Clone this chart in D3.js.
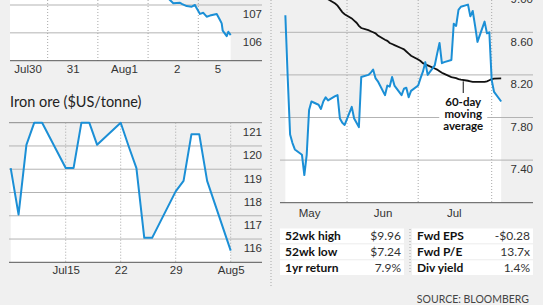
<!DOCTYPE html>
<html lang="en">
<head>
<meta charset="UTF-8">
<title>Iron ore and share price</title>
<script src="https://cdn.jsdelivr.net/npm/d3@7"></script>
<style>
    body { margin: 0; background: #f0f0f0; }
    svg { display: block; font-family: Lato, "Noto Sans", sans-serif; }
    .ylab text, .xlab text { font-size: 11.5px; fill: #333; }
    .domain { display: none; }
</style>
</head>
<body>
<script>
    var width = 543
    var height = 305
    var blue = "#1b8fd6"

    // intraday share price, last five sessions (x = session index)
    var topDays = [0.25, 0.6, 1.0, 1.5, 2.0, 2.5, 3.0, 3.3, 3.436, 3.502, 3.636, 3.67, 3.769, 3.869, 3.934, 3.968,
                   4.034, 4.10, 4.167, 4.233, 4.367, 4.432, 4.466, 4.486, 4.566, 4.598, 4.645]
    var topPrices = [108.5, 108.7, 108.3, 108.5, 108.1, 107.9, 107.7, 107.4, 107.18, 107.06, 107.08, 107.04, 106.96, 106.94, 107.0, 106.88,
                     106.68, 106.72, 106.58, 106.62, 106.68, 106.46, 106.34, 106.08, 105.88, 106.04, 105.92]
    var topBreaks = [1, 2, 3, 4]
    var topTickPos = [0.6, 1.5, 2.52, 3.57, 4.38]
    var topTickLabels = ["Jul30", "31", "Aug1", "2", "5"]
    var topYTicks = [106, 107]

    // iron ore
    var ironDates = ["2019-07-08", "2019-07-09", "2019-07-10", "2019-07-11", "2019-07-12", "2019-07-15", "2019-07-16",
                     "2019-07-17", "2019-07-18", "2019-07-19", "2019-07-22", "2019-07-23", "2019-07-24", "2019-07-25",
                     "2019-07-26", "2019-07-29", "2019-07-30", "2019-07-31", "2019-08-01", "2019-08-02", "2019-08-05"]
    var ironPrices = [119.05, 117.05, 120.05, 121.0, 121.0, 119.05, 119.05, 121.0, 121.0, 120.05, 121.0, 120.0, 119.05, 116.05,
                      116.05, 118.05, 118.5, 120.5, 120.5, 118.5, 115.5]
    var ironYTicks = [116, 117, 118, 119, 120, 121]
    var ironXTicks = ["2019-07-15", "2019-07-22", "2019-07-29", "2019-08-05"]
    var ironXLabels = ["Jul15", "22", "29", "Aug5"]

    // share price and 60-day moving average
    var shareDates = ["2019-05-06", "2019-05-07", "2019-05-08", "2019-05-09", "2019-05-10", "2019-05-13", "2019-05-14",
                      "2019-05-15", "2019-05-16", "2019-05-17", "2019-05-20", "2019-05-21", "2019-05-22", "2019-05-23",
                      "2019-05-24", "2019-05-27", "2019-05-28", "2019-05-29", "2019-05-30", "2019-05-31",
                      "2019-06-03", "2019-06-04", "2019-06-05", "2019-06-06", "2019-06-07", "2019-06-10", "2019-06-11",
                      "2019-06-12", "2019-06-13", "2019-06-14", "2019-06-17", "2019-06-18", "2019-06-19", "2019-06-20",
                      "2019-06-21", "2019-06-24", "2019-06-25", "2019-06-26", "2019-06-27", "2019-06-28",
                      "2019-07-01", "2019-07-02", "2019-07-03", "2019-07-04", "2019-07-05", "2019-07-08", "2019-07-09",
                      "2019-07-10", "2019-07-11", "2019-07-12", "2019-07-15", "2019-07-16", "2019-07-17", "2019-07-18",
                      "2019-07-19", "2019-07-22", "2019-07-23", "2019-07-24", "2019-07-25", "2019-07-26", "2019-07-29",
                      "2019-07-30", "2019-07-31", "2019-08-01", "2019-08-02", "2019-08-05"]
    var sharePrices = [8.76, 8.17, 7.64, 7.56, 7.50, 7.45, 7.26, 7.45, 7.87, 7.95, 7.92, 7.88, 7.95, 7.99, 7.96, 8.00, 8.01, 7.79, 7.75, 7.73,
                       7.90, 7.79, 7.75, 7.71, 8.18, 8.20, 8.22, 8.25, 8.17, 8.14, 8.01, 8.10, 8.09, 8.18, 8.10, 8.01, 8.07, 8.08, 7.99, 8.05,
                       8.10, 8.17, 8.23, 8.32, 8.20, 8.29, 8.40, 8.50, 8.31, 8.32, 8.34, 8.68, 8.66, 8.81, 8.84, 8.86, 8.75, 8.80, 8.66, 8.51,
                       8.70, 8.59, 8.60, 8.15, 8.04, 7.95]
    var shareMA = [9.30, 9.28, 9.25, 9.22, 9.19, 9.13, 9.11, 9.09, 9.06, 9.04, 8.98, 8.96, 8.94, 8.92, 8.91, 8.87, 8.85, 8.82, 8.79, 8.77,
                   8.73, 8.71, 8.69, 8.66, 8.64, 8.62, 8.61, 8.60, 8.59, 8.57, 8.53, 8.52, 8.50, 8.49, 8.48, 8.45, 8.44, 8.42, 8.40, 8.38,
                   8.345, 8.33, 8.31, 8.30, 8.29, 8.26, 8.25, 8.235, 8.22, 8.21, 8.18, 8.175, 8.17, 8.16, 8.155, 8.145, 8.14, 8.135, 8.135, 8.135,
                   8.135, 8.14, 8.15, 8.16, 8.165, 8.167]
    var shareYTicks = [7.4, 7.8, 8.2, 8.6, 9.0]
    var monthBreaks = ["2019-06-01", "2019-07-01", "2019-08-01"]
    var monthTickDates = ["2019-05-16", "2019-06-16", "2019-07-16"]
    var monthLabels = ["May", "Jun", "Jul"]
    var maNoteDate = "2019-07-20"
    var maNote = ["60-day", "moving", "average"]

    // key stats
    var statNamesL = ["52wk high", "52wk low", "1yr return"]
    var statValsL = ["$9.96", "$7.24", "7.9%"]
    var statNamesR = ["Fwd EPS", "Fwd P/E", "Div yield"]
    var statValsR = ["-$0.28", "13.7x", "1.4%"]

    var parse = d3.timeParse("%Y-%m-%d")

    var svg = d3.select("body")
        .append("svg")
        .attr("width", width)
        .attr("height", height)

    svg.append("rect")
        .attr("width", width)
        .attr("height", height)
        .attr("fill", "#f0f0f0")

    // shared drawing bits
    function gridLines(g, ys, x0, x1, color) {
        g.selectAll(null)
            .data(ys)
            .enter()
            .append("line")
            .attr("x1", x0)
            .attr("x2", x1)
            .attr("y1", function(d) { return d })
            .attr("y2", function(d) { return d })
            .attr("stroke", color || "#b3b3b3")
            .attr("stroke-width", 1)
    }

    function dotLines(g, xs, y0, y1) {
        g.selectAll(null)
            .data(xs)
            .enter()
            .append("line")
            .attr("x1", function(d) { return d })
            .attr("x2", function(d) { return d })
            .attr("y1", y0)
            .attr("y2", y1)
            .attr("stroke", "#a8a8a8")
            .attr("stroke-dasharray", "1,2")
    }

    function yLabels(scale, ticks, x, fmt) {
        svg.append("g")
            .attr("class", "ylab")
            .attr("transform", "translate(" + x + ",0)")
            .call(d3.axisLeft(scale).tickValues(ticks).tickSize(0).tickPadding(0).tickFormat(fmt))
            .selectAll("text")
            .attr("dy", "1.12em")
    }

    // ---------- top-left: intraday price ----------
    var topX = d3.scaleLinear().domain([0.25, 5]).range([10, 248.5])
    var topY = d3.scaleLinear().domain([105, 107]).range([60.7, 5])
    var topData = d3.zip(topDays, topPrices)

    svg.append("path")
        .datum(topData)
        .attr("fill", "#fff")
        .attr("d", d3.area().x(function(d) { return topX(d[0]) }).y0(topY(105)).y1(function(d) { return topY(d[1]) }))

    var g1 = svg.append("g")
    gridLines(g1, topYTicks.map(topY), 10, 262)
    dotLines(g1, topBreaks.map(topX), 0, topY(105))
    gridLines(g1, [topY(105)], 10, 262, "#555")

    svg.append("path")
        .datum(topData)
        .attr("fill", "none")
        .attr("stroke", blue)
        .attr("stroke-width", 2)
        .attr("stroke-linejoin", "round")
        .attr("d", d3.line().x(function(d) { return topX(d[0]) }).y(function(d) { return topY(d[1]) }))

    yLabels(topY, topYTicks, 262, d3.format("d"))

    svg.append("g")
        .attr("class", "xlab")
        .attr("transform", "translate(0," + topY(105) + ")")
        .call(d3.axisBottom(topX).tickValues(topTickPos).tickSize(0).tickPadding(4)
            .tickFormat(function(d, i) { return topTickLabels[i] }))

    // ---------- bottom-left: iron ore ----------
    svg.append("text")
        .attr("x", 10)
        .attr("y", 106.5)
        .attr("font-size", 14.5)
        .attr("fill", "#222")
        .text("Iron ore ($US/tonne)")

    var ironX = d3.scaleTime().domain([parse("2019-07-08"), parse("2019-08-05")]).range([10.7, 230.7])
    var ironY = d3.scaleLinear().domain([115, 121]).range([262.3, 122.7])
    var ironData = ironDates.map(function(d, i) { return { date: parse(d), value: ironPrices[i] } })

    svg.append("path")
        .datum(ironData)
        .attr("fill", "#fff")
        .attr("d", d3.area().x(function(d) { return ironX(d.date) }).y0(ironY(115)).y1(function(d) { return ironY(d.value) }))

    var g2 = svg.append("g")
    gridLines(g2, ironYTicks.slice(0, -1).map(ironY), 9, 262)
    gridLines(g2, [ironY(121)], 9, 262, "#8a8a8a")
    dotLines(g2, ironXTicks.map(function(d) { return ironX(parse(d)) }), ironY(121), ironY(115))
    gridLines(g2, [ironY(115)], 9, 262, "#555")

    svg.append("path")
        .datum(ironData)
        .attr("fill", "none")
        .attr("stroke", blue)
        .attr("stroke-width", 2)
        .attr("stroke-linejoin", "round")
        .attr("d", d3.line().x(function(d) { return ironX(d.date) }).y(function(d) { return ironY(d.value) }))

    yLabels(ironY, ironYTicks, 262, d3.format("d"))

    svg.append("g")
        .attr("class", "xlab")
        .attr("transform", "translate(0," + ironY(115) + ")")
        .call(d3.axisBottom(ironX).tickValues(ironXTicks.map(parse)).tickSize(0).tickPadding(4)
            .tickFormat(function(d, i) { return ironXLabels[i] }))

    // panel divider
    dotLines(svg.append("g"), [271], 0, 287)

    // ---------- right: share price ----------
    var shX = d3.scaleTime().domain([parse("2019-05-01"), parse("2019-08-01")]).range([273.5, 491.7])
    var shY = d3.scaleLinear().domain([7, 8.6]).range([202.7, 32.3])
    var shData = shareDates.map(function(d, i) { return { date: parse(d), value: sharePrices[i], ma: shareMA[i] } })

    svg.append("path")
        .datum(shData)
        .attr("fill", "#fff")
        .attr("d", d3.area().x(function(d) { return shX(d.date) }).y0(shY(7)).y1(function(d) { return shY(d.value) }))

    var g3 = svg.append("g")
    gridLines(g3, shareYTicks.map(shY), 280, 533)
    dotLines(g3, monthBreaks.map(function(d) { return shX(parse(d)) }), 0, shY(7))
    gridLines(g3, [shY(7)], 280, 533, "#555")

    // moving average note
    var noteX = shX(parse(maNoteDate))
    svg.append("rect")
        .attr("x", noteX - 24)
        .attr("y", 94)
        .attr("width", 48)
        .attr("height", 37)
        .attr("fill", "#fff")
    svg.append("line")
        .attr("x1", noteX)
        .attr("x2", noteX)
        .attr("y1", shY(8.14))
        .attr("y2", 93)
        .attr("stroke", "#111")
    svg.selectAll(".note")
        .data(maNote)
        .enter()
        .append("text")
        .attr("x", noteX)
        .attr("y", function(d, i) { return 105.5 + i * 12.2 })
        .attr("text-anchor", "middle")
        .attr("font-size", 11.5)
        .attr("font-weight", "bold")
        .attr("fill", "#111")
        .text(function(d) { return d })

    svg.append("path")
        .datum(shData)
        .attr("fill", "none")
        .attr("stroke", "#111")
        .attr("stroke-width", 1.8)
        .attr("d", d3.line().x(function(d) { return shX(d.date) }).y(function(d) { return shY(d.ma) }))

    svg.append("path")
        .datum(shData)
        .attr("fill", "none")
        .attr("stroke", blue)
        .attr("stroke-width", 2)
        .attr("stroke-linejoin", "round")
        .attr("d", d3.line().x(function(d) { return shX(d.date) }).y(function(d) { return shY(d.value) }))

    yLabels(shY, shareYTicks, 533, d3.format(".2f"))

    svg.append("g")
        .attr("class", "xlab")
        .attr("transform", "translate(0," + shY(7) + ")")
        .call(d3.axisBottom(shX).tickValues(monthTickDates.map(parse)).tickSize(0).tickPadding(6)
            .tickFormat(function(d, i) { return monthLabels[i] }))

    // ---------- key stats ----------
    var rowY = d3.scaleBand().domain(d3.range(3)).range([228.5, 275]).paddingInner(0.08)
    var cols = [
        { names: statNamesL, vals: statValsL, x0: 280, x1: 404 },
        { names: statNamesR, vals: statValsR, x0: 412, x1: 533 }
    ]
    cols.forEach(function(c) {
        var g = svg.append("g")
        g.selectAll("rect")
            .data(c.names)
            .enter()
            .append("rect")
            .attr("x", c.x0)
            .attr("y", function(d, i) { return rowY(i) })
            .attr("width", c.x1 - c.x0)
            .attr("height", rowY.bandwidth())
            .attr("fill", "#fff")
        g.selectAll(".nm")
            .data(c.names)
            .enter()
            .append("text")
            .attr("x", c.x0 + 5)
            .attr("y", function(d, i) { return rowY(i) + rowY.bandwidth() / 2 + 4 })
            .attr("font-size", 12)
            .attr("font-weight", "bold")
            .attr("fill", "#111")
            .text(function(d) { return d })
        g.selectAll(".vl")
            .data(c.vals)
            .enter()
            .append("text")
            .attr("x", c.x1 - 3)
            .attr("y", function(d, i) { return rowY(i) + rowY.bandwidth() / 2 + 4 })
            .attr("text-anchor", "end")
            .attr("font-size", 12)
            .attr("fill", "#333")
            .text(function(d) { return d })
    })
    dotLines(svg.append("g"), [410], 229, 274)

    svg.append("text")
        .attr("x", 529)
        .attr("y", 303)
        .attr("text-anchor", "end")
        .attr("font-size", 10.5)
        .attr("fill", "#444")
        .text("SOURCE: BLOOMBERG")
</script>
</body>
</html>
